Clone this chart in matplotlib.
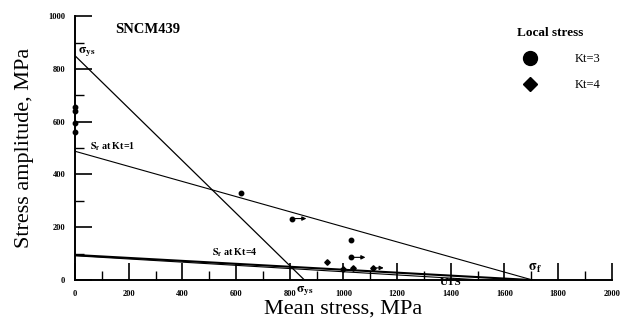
import numpy as np
import matplotlib.pyplot as plt
from matplotlib.lines import Line2D
from matplotlib.ticker import MultipleLocator

plt.rcParams['font.family'] = ['Liberation Serif', 'DejaVu Serif']
plt.rcParams['mathtext.fontset'] = 'stix'

# local stress data points
kt3_x = [0, 0, 0, 0, 620, 810, 1030, 1030]
kt3_y = [655, 640, 595, 560, 330, 233, 152, 86]
kt4_x = [940, 1000, 1037, 1110]
kt4_y = [67, 40, 44, 46]

# run-out arrows (start x, end x, y)
arrow_x0 = [810, 1030, 1110]
arrow_x1 = [862, 1082, 1150]
arrow_y = [233, 86, 46]

# reference lines (x0, y0) -> (x1, y1)
sys_line = ([0, 855], [850, 0])
kt1_line = ([0, 1705], [488, 0])
kt4_line = ([0, 1700], [95, 0])
kt4_uts_line = ([0, 1520], [92, 0])

fig = plt.figure(figsize=(6.22, 3.23), dpi=100)
ax = fig.add_axes([0.1206, 0.133, 0.863, 0.817])

ax.plot(*sys_line, color='black', lw=0.9)
ax.plot(*kt1_line, color='black', lw=0.8)
ax.plot(*kt4_line, color='black', lw=1.5)
ax.plot(*kt4_uts_line, color='black', lw=0.8)

ax.plot(kt3_x, kt3_y, 'o', color='black', ms=3.2, clip_on=False)
ax.plot(kt4_x, kt4_y, 'D', color='black', ms=2.8, clip_on=False)
for x0, x1, y in zip(arrow_x0, arrow_x1, arrow_y):
    ax.annotate('', xy=(x1, y), xytext=(x0, y),
                arrowprops=dict(arrowstyle='-|>', color='black', lw=0.8,
                                mutation_scale=6, shrinkA=2, shrinkB=0))

ax.set_xlim(0, 2000)
ax.set_ylim(0, 1000)
ax.spines['top'].set_visible(False)
ax.spines['right'].set_visible(False)
ax.spines['left'].set_linewidth(1.4)
ax.spines['bottom'].set_linewidth(1.4)
ax.xaxis.set_major_locator(MultipleLocator(200))
ax.xaxis.set_minor_locator(MultipleLocator(100))
ax.yaxis.set_major_locator(MultipleLocator(200))
ax.yaxis.set_minor_locator(MultipleLocator(100))
ax.tick_params(which='major', direction='in', length=12.5, width=1.2,
               labelsize=6, pad=7)
ax.tick_params(which='minor', direction='in', length=6.5, width=1.0)
for lab in ax.get_xticklabels() + ax.get_yticklabels():
    lab.set_fontweight('bold')

ax.set_xlabel('Mean stress, MPa', fontsize=16, labelpad=1)
ax.set_ylabel('Stress amplitude, MPa', fontsize=16, labelpad=10)

ax.text(150, 950, 'SNCM439', fontsize=10.5, fontweight='bold', va='center')
ax.text(12, 862, r'$\mathbf{\sigma_{ys}}$', fontsize=9.5, va='center')
ax.text(825, -15, r'$\mathbf{\sigma_{ys}}$', fontsize=9.5, va='top', clip_on=False)
ax.text(55, 505, r'$\mathbf{S_f}$ at Kt=1', fontsize=7.2, fontweight='bold', va='center')
ax.text(512, 102, r'$\mathbf{S_f}$ at Kt=4', fontsize=7.2, fontweight='bold', va='center')
ax.text(1688, 45, r'$\mathbf{\sigma_f}$', fontsize=10, va='center')
ax.text(1400, -10, 'UTS', fontsize=8, fontweight='bold', ha='center', va='center',
        clip_on=False)

handles = [Line2D([], [], marker='o', color='black', ls='none', ms=10),
           Line2D([], [], marker='D', color='black', ls='none', ms=7.5)]
leg = ax.legend(handles, ['Kt=3', 'Kt=4'], title='Local stress', loc='upper left',
                bbox_to_anchor=(0.805, 0.995), frameon=False, fontsize=9,
                handletextpad=2.6, labelspacing=1.1, title_fontsize=9.5,
                borderpad=0.3)
leg.get_title().set_fontweight('bold')
leg._legend_box.align = 'left'

fig.savefig('out.png', dpi=100)
